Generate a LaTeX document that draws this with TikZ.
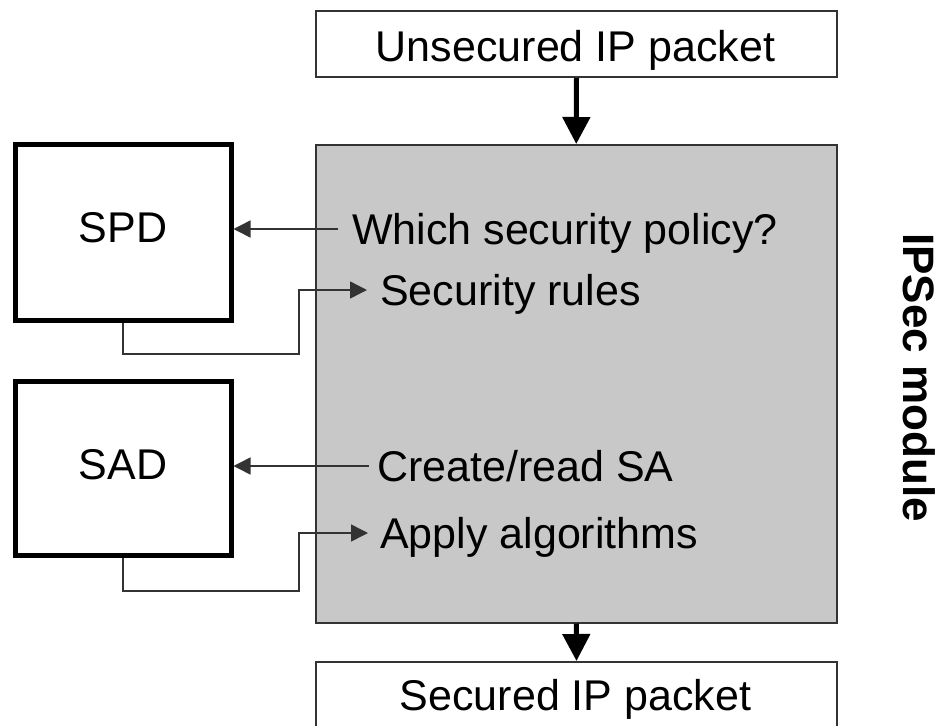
\documentclass[tikz,border=0pt]{standalone}
\usepackage{fontspec}
\setmainfont{Liberation Sans}
\usetikzlibrary{arrows.meta}
\definecolor{modulegray}{RGB}{200,200,200}
\definecolor{edgegray}{RGB}{51,51,51}
\tikzset{
  bigtext/.style={font=\fontsize{43}{50}\selectfont, inner sep=0pt},
  packetbox/.style={draw=edgegray, line width=2pt, fill=white, minimum width=521pt, minimum height=66pt, inner sep=0pt, anchor=north west},
  dbbox/.style={draw=black, line width=5pt, fill=white, minimum width=216pt, inner sep=0pt, anchor=north west},
  modulebox/.style={draw=edgegray, line width=1.5pt, fill=modulegray, minimum width=521pt, minimum height=478pt, inner sep=0pt, anchor=north west},
  conn/.style={draw=edgegray, line width=1.5pt, -{Triangle[length=17pt,width=17pt]}},
  flow/.style={draw=black, line width=5pt, -{Triangle[length=27pt,width=27pt]}},
}
\begin{document}
\begin{tikzpicture}[x=1pt,y=-1pt]
\useasboundingbox (0,0) rectangle (938,726);

% packets and IPSec module
\node[packetbox] (inpkt) at (315,10) {};
\node[bigtext, anchor=base] at (575.5,61) {Unsecured IP packet};
\node[modulebox] (module) at (315,144) {};
\node[packetbox] (outpkt) at (315,661) {};
\node[bigtext, anchor=base] at (575.5,710) {Secured IP packet};

\draw[flow] (inpkt.south) -- (module.north);
\draw[flow] (module.south) -- (outpkt.north);

% databases
\node[dbbox, minimum height=176pt] (spd) at (12.5,142) {};
\node[bigtext, anchor=base] at (spd.center |- 0,242) {SPD};
\node[dbbox, minimum height=174pt] (sad) at (12.5,379) {};
\node[bigtext, anchor=base] at (sad.center |- 0,479) {SAD};

% steps inside the module
\node[bigtext, anchor=base west] (which) at (352,244) {Which security policy?};
\node[bigtext, anchor=base west] (rules) at (380,305) {Security rules};
\node[bigtext, anchor=base west] (create) at (377,481) {Create/read SA};
\node[bigtext, anchor=base west] (apply) at (380,548) {Apply algorithms};

% queries and answers
\draw[conn] (338,229) coordinate (q1) -- (q1 -| spd.east);
\draw[conn] (spd.south) -- ++(0,31) -| (299,290) -- (367,290) coordinate (a1);
\draw[conn] (369,466) coordinate (q2) -- (q2 -| sad.east);
\draw[conn] (sad.south) -- ++(0,33) -| (299,533) -- (368,533) coordinate (a2);

% side label
\node[font=\bfseries\fontsize{44}{50}\selectfont, inner sep=0pt, anchor=base, rotate=-90] (label) at (903,377.5) {IPSec module};
\end{tikzpicture}
\end{document}
